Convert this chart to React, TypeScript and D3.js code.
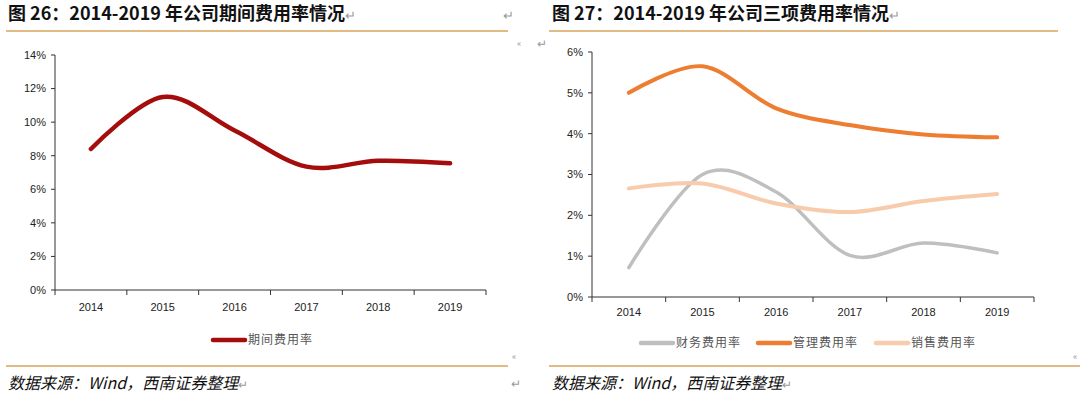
import React from "react";
import * as d3 from "d3";

const years = ["2014", "2015", "2016", "2017", "2018", "2019"];
const periodRate = [0.084, 0.115, 0.095, 0.0735, 0.077, 0.0755];
const financeRate = [0.0072, 0.030, 0.0257, 0.0102, 0.0132, 0.0108];
const adminRate = [0.050, 0.0565, 0.0462, 0.0421, 0.0398, 0.0391];
const salesRate = [0.0266, 0.0278, 0.0229, 0.0208, 0.0235, 0.0252];
const leftTicks = [0, 0.02, 0.04, 0.06, 0.08, 0.1, 0.12, 0.14];
const rightTicks = [0, 0.01, 0.02, 0.03, 0.04, 0.05, 0.06];

const AXIS_FONT = "'Liberation Sans', Arial, sans-serif";
const CJK = "'Noto Sans CJK SC', 'Liberation Sans', sans-serif";
const GOLD = "#D9A35B";
const MARK = "#9a9a9a";

type Series = { name: string; values: number[]; color: string; width: number };

function Panel(props: {
  x0: number; x1: number; yTop: number; yBot: number; max: number; ticks: number[];
  series: Series[]; legendY: number; legendX: number[]; labelY: number;
}) {
  const { x0, x1, yTop, yBot, max, ticks, series, legendY, legendX, labelY } = props;
  const xb = d3.scaleBand<string>().domain(years).range([x0, x1]);
  const y = d3.scaleLinear().domain([0, max]).range([yBot, yTop]);
  const cx = (d: string) => (xb(d) as number) + xb.bandwidth() / 2;
  const boundaries = years.map((d) => xb(d) as number).concat([x1]);
  const fmt = d3.format(".0%");
  return (
    <g>
      <line x1={x0} x2={x0} y1={yTop} y2={yBot} stroke="#333" strokeWidth={1} />
      <line x1={x0} x2={x1} y1={yBot} y2={yBot} stroke="#333" strokeWidth={1} />
      {ticks.map((t) => (
        <g key={t}>
          <line x1={x0 - 4} x2={x0} y1={y(t)} y2={y(t)} stroke="#333" />
          <text x={x0 - 9} y={y(t)} dy="0.35em" textAnchor="end" fontSize={11} fontFamily={AXIS_FONT} fill="#222">
            {fmt(t)}
          </text>
        </g>
      ))}
      {boundaries.map((b, i) => (
        <line key={i} x1={b} x2={b} y1={yBot} y2={yBot + 5} stroke="#333" />
      ))}
      {years.map((d) => (
        <text key={d} x={cx(d)} y={labelY} textAnchor="middle" fontSize={11} fontFamily={AXIS_FONT} fill="#222">
          {d}
        </text>
      ))}
      {series.map((s) => {
        const line = d3
          .line<number>()
          .x((_, i) => cx(years[i]))
          .y((v) => y(v))
          .curve(d3.curveCardinal.tension(0));
        return (
          <path key={s.name} d={line(s.values) || ""} fill="none" stroke={s.color} strokeWidth={s.width} strokeLinecap="round" />
        );
      })}
      {series.map((s, i) => (
        <g key={s.name + "lg"}>
          <line x1={legendX[i]} x2={legendX[i] + 32} y1={legendY} y2={legendY} stroke={s.color} strokeWidth={4.5} strokeLinecap="round" />
          <text x={legendX[i] + 35} y={legendY} dy="0.36em" fontSize={12} fontFamily={CJK} fill="#555" letterSpacing={1}>
            {s.name}
          </text>
        </g>
      ))}
    </g>
  );
}

export default function App() {
  return (
    <svg width={1080} height={397} style={{ position: "absolute", left: 0, top: 0, background: "#fff" }}>
      <rect width={1080} height={397} fill="#fff" />
      <text x={8} y={20} fontSize={18} fontWeight="bold" fontFamily={CJK} fill="#111">
        图 26：2014-2019 年公司期间费用率情况<tspan fill={MARK} fontWeight="normal" fontSize={13}>↵</tspan>
      </text>
      <text x={503} y={20} fontSize={13} fontFamily={CJK} fill={MARK}>↵</text>
      <text x={552} y={20} fontSize={18} fontWeight="bold" fontFamily={CJK} fill="#111">
        图 27：2014-2019 年公司三项费用率情况<tspan fill={MARK} fontWeight="normal" fontSize={13}>↵</tspan>
      </text>
      <line x1={6} x2={508} y1={31} y2={31} stroke={GOLD} strokeWidth={1.5} />
      <line x1={549} x2={1058} y1={31} y2={31} stroke={GOLD} strokeWidth={1.5} />
      <text x={537} y={48} fontSize={12} fontFamily={CJK} fill={MARK}>↵</text>
      <text x={517} y={47} fontSize={9} fontFamily={CJK} fill={MARK}>«</text>

      <Panel
        x0={55} x1={486} yTop={55} yBot={290} max={0.14} ticks={leftTicks}
        series={[{ name: "期间费用率", values: periodRate, color: "#A50D0D", width: 4.5 }]}
        legendY={340} legendX={[213]} labelY={311}
      />
      <Panel
        x0={592} x1={1034} yTop={52} yBot={297} max={0.06} ticks={rightTicks}
        series={[
          { name: "财务费用率", values: financeRate, color: "#BFBFBF", width: 3.5 },
          { name: "管理费用率", values: adminRate, color: "#ED7D31", width: 4 },
          { name: "销售费用率", values: salesRate, color: "#F8CBAD", width: 4 },
        ]}
        legendY={343} legendX={[641, 758, 876]} labelY={316}
      />

      <text x={512} y={360} fontSize={9} fontFamily={CJK} fill={MARK}>«</text>
      <text x={1073} y={360} fontSize={9} fontFamily={CJK} fill={MARK}>«</text>
      <line x1={6} x2={508} y1={366} y2={366} stroke={GOLD} strokeWidth={1.5} />
      <line x1={549} x2={1080} y1={366} y2={366} stroke={GOLD} strokeWidth={1.5} />
      <text x={8} y={389} fontSize={16} fontStyle="italic" fontFamily={CJK} fill="#111">
        数据来源：Wind，西南证券整理<tspan fill={MARK} fontStyle="normal" fontSize={12}>↵</tspan>
      </text>
      <text x={511} y={388} fontSize={12} fontFamily={CJK} fill={MARK}>↵</text>
      <text x={552} y={389} fontSize={16} fontStyle="italic" fontFamily={CJK} fill="#111">
        数据来源：Wind，西南证券整理<tspan fill={MARK} fontStyle="normal" fontSize={12}>↵</tspan>
      </text>
    </svg>
  );
}
